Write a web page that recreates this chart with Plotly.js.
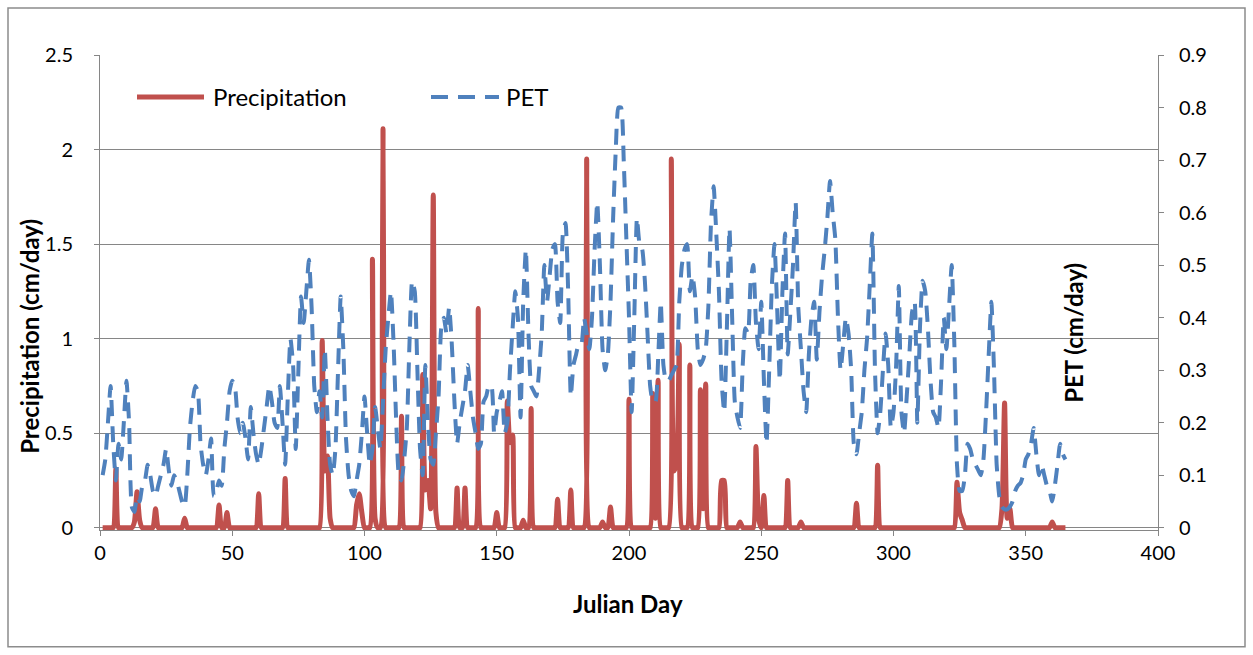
<!DOCTYPE html>
<html>
<head>
<meta charset="utf-8">
<script src="https://cdn.plot.ly/plotly-3.0.1.min.js"></script>
<style>
  html, body { margin: 0; padding: 0; background: #ffffff; }
  #chart { width: 1253px; height: 655px; }
</style>
</head>
<body>
<div id="chart"></div>
<script>
// ---- Data ----
// PET, cm/day, Julian days 1..365
const petValues = [
  0.10,0.13,0.20,0.27,0.16,0.09,0.16,0.13,0.20,0.28,
  0.20,0.04,0.03,0.06,0.05,0.08,0.09,0.12,0.10,0.07,
  0.06,0.08,0.10,0.12,0.15,0.11,0.08,0.10,0.09,0.07,
  0.05,0.04,0.10,0.19,0.24,0.27,0.26,0.16,0.12,0.10,
  0.13,0.17,0.06,0.07,0.09,0.08,0.15,0.20,0.26,0.28,
  0.27,0.21,0.18,0.20,0.17,0.13,0.23,0.18,0.14,0.12,
  0.15,0.19,0.23,0.27,0.24,0.20,0.19,0.27,0.20,0.12,
  0.25,0.36,0.31,0.15,0.30,0.44,0.39,0.45,0.51,0.42,
  0.27,0.22,0.26,0.21,0.34,0.21,0.12,0.10,0.15,0.30,
  0.44,0.34,0.17,0.10,0.07,0.06,0.09,0.12,0.18,0.25,
  0.18,0.12,0.15,0.23,0.19,0.15,0.24,0.34,0.40,0.45,
  0.35,0.20,0.10,0.09,0.13,0.19,0.35,0.47,0.45,0.30,
  0.15,0.10,0.31,0.20,0.13,0.12,0.18,0.25,0.38,0.40,
  0.37,0.42,0.35,0.24,0.16,0.20,0.23,0.26,0.31,0.26,
  0.21,0.18,0.15,0.16,0.24,0.25,0.27,0.27,0.18,0.22,
  0.24,0.26,0.18,0.20,0.30,0.38,0.45,0.40,0.21,0.43,
  0.53,0.37,0.27,0.26,0.25,0.30,0.37,0.50,0.43,0.48,
  0.53,0.54,0.43,0.39,0.56,0.58,0.45,0.25,0.31,0.33,
  0.35,0.35,0.40,0.37,0.34,0.40,0.53,0.62,0.50,0.34,
  0.30,0.33,0.43,0.59,0.72,0.80,0.80,0.70,0.55,0.40,
  0.22,0.40,0.59,0.54,0.53,0.47,0.37,0.27,0.24,0.24,
  0.32,0.43,0.31,0.28,0.28,0.29,0.30,0.31,0.43,0.50,
  0.53,0.54,0.45,0.48,0.44,0.34,0.31,0.32,0.34,0.42,
  0.58,0.65,0.56,0.45,0.28,0.22,0.38,0.57,0.40,0.24,
  0.21,0.19,0.31,0.38,0.37,0.47,0.50,0.39,0.34,0.43,
  0.28,0.16,0.30,0.46,0.54,0.42,0.28,0.45,0.56,0.33,
  0.41,0.50,0.62,0.42,0.34,0.26,0.22,0.33,0.40,0.43,
  0.32,0.41,0.48,0.53,0.59,0.66,0.60,0.55,0.40,0.30,
  0.35,0.40,0.37,0.30,0.16,0.14,0.18,0.22,0.30,0.36,
  0.46,0.56,0.30,0.18,0.22,0.30,0.37,0.31,0.19,0.22,
  0.31,0.46,0.22,0.18,0.25,0.33,0.41,0.43,0.20,0.38,
  0.47,0.45,0.38,0.28,0.22,0.21,0.19,0.28,0.40,0.34,
  0.42,0.50,0.35,0.12,0.07,0.07,0.10,0.16,0.15,0.13,
  0.12,0.11,0.10,0.13,0.22,0.33,0.43,0.30,0.12,0.06,
  0.04,0.035,0.035,0.04,0.05,0.07,0.08,0.085,0.10,0.13,
  0.14,0.16,0.19,0.14,0.10,0.12,0.10,0.08,0.07,0.05,
  0.08,0.12,0.16,0.14,0.13
];

// Precipitation, cm/day: days with rain and their amounts (all other days are 0)
const rainDays = [6,13,14,15,21,32,45,48,60,70,84,85,86,87,97,98,99,103,104,107,114,
  122,123,124,125,126,127,135,138,143,150,154,155,156,160,163,173,178,184,190,193,200,
  209,210,211,216,217,218,219,223,227,228,229,235,236,242,248,249,251,260,265,286,294,
  324,325,326,341,342,343,344,360];
const rainAmounts = [0.31,0.03,0.19,0.04,0.10,0.05,0.12,0.08,0.18,0.26,0.99,0.30,0.38,0.05,0.12,0.18,0.08,1.42,0.05,2.11,0.59,
  0.81,0.20,0.25,0.10,1.76,0.08,0.21,0.21,1.16,0.08,0.67,0.45,0.49,0.04,0.63,0.15,0.20,1.95,0.03,0.11,0.68,
  0.71,0.05,0.78,1.95,0.30,0.35,0.97,0.86,0.73,0.10,0.76,0.25,0.25,0.03,0.43,0.05,0.17,0.25,0.03,0.13,0.33,
  0.24,0.08,0.04,0.10,0.66,0.05,0.10,0.03];

const seriesNames = ["Precipitation", "PET"];
const xTitle = "Julian Day";
const yLeftTitle = "Precipitation (cm/day)";
const yRightTitle = "PET (cm/day)";

// ---- Build daily series ----
const days = petValues.map((_, i) => i + 1);
const precip = days.map(d => {
  const k = rainDays.indexOf(d);
  return k >= 0 ? rainAmounts[k] : 0;
});

const red = "#C0504D";
const blue = "#4F81BD";
const grid = "#868686";
const font = "Lato, 'Open Sans', sans-serif";

const traces = [
  {
    x: days, y: precip, name: seriesNames[0], type: "scatter", mode: "lines",
    line: { color: red, width: 5, shape: "spline", smoothing: 0.6 },
    yaxis: "y", showlegend: false, hoverinfo: "x+y"
  },
  {
    x: days, y: petValues, name: seriesNames[1], type: "scatter", mode: "lines",
    line: { color: blue, width: 4, dash: "16px,10px", shape: "spline", smoothing: 0.5 },
    yaxis: "y2", showlegend: false, hoverinfo: "x+y"
  }
];

// plot area geometry in pixels (for paper-coordinate helpers)
const L = 100, R = 1158, T = 55, B = 530.3;
const px = x => (x - L) / (R - L);
const py = y => (B - y) / (B - T);

const layout = {
  width: 1253, height: 655,
  paper_bgcolor: "#ffffff", plot_bgcolor: "#ffffff",
  margin: { l: L, r: 1253 - R, t: T, b: 655 - B },
  font: { family: font, size: 20, color: "#000000" },
  xaxis: {
    range: [0, 400], dtick: 50, tick0: 0,
    showgrid: false, zeroline: false,
    showline: true, linecolor: grid, linewidth: 1,
    ticks: "outside", ticklen: 5, tickcolor: grid,
    tickfont: { family: font, size: 20, color: "#000" }
  },
  yaxis: {
    range: [-0.012, 2.5], tickvals: [0, 0.5, 1, 1.5, 2, 2.5],
    ticktext: ["0", "0.5", "1", "1.5", "2", "2.5"],
    showgrid: true, gridcolor: grid, gridwidth: 1, zeroline: false,
    showline: true, linecolor: grid, linewidth: 1,
    ticks: "outside", ticklen: 5, tickcolor: grid,
    ticklabelstandoff: 17,
    tickfont: { family: font, size: 20, color: "#000" }
  },
  yaxis2: {
    overlaying: "y", side: "right",
    range: [-0.9 * 0.012 / 2.5, 0.9],
    tickvals: [0, 0.1, 0.2, 0.3, 0.4, 0.5, 0.6, 0.7, 0.8, 0.9],
    ticktext: ["0", "0.1", "0.2", "0.3", "0.4", "0.5", "0.6", "0.7", "0.8", "0.9"],
    showgrid: false, zeroline: false,
    showline: true, linecolor: grid, linewidth: 1,
    ticks: "outside", ticklen: 5, tickcolor: grid,
    ticklabelstandoff: 11,
    tickfont: { family: font, size: 20, color: "#000" }
  },
  shapes: [
    // chart outer border
    { type: "rect", xref: "paper", yref: "paper",
      x0: px(8), x1: px(1245), y0: py(647), y1: py(8),
      line: { color: "#8c8c8c", width: 1.5 }, fillcolor: "rgba(0,0,0,0)", layer: "below" },
    // legend samples
    { type: "line", xref: "paper", yref: "paper", x0: px(137), x1: px(204), y0: py(97), y1: py(97),
      line: { color: red, width: 5 } },
    { type: "line", xref: "paper", yref: "paper", x0: px(431), x1: px(499), y0: py(97), y1: py(97),
      line: { color: blue, width: 4, dash: "17px,10px" } }
  ],
  annotations: [
    { text: seriesNames[0], xref: "paper", yref: "paper", x: px(211), y: py(97),
      xanchor: "left", yanchor: "middle", showarrow: false, font: { family: font, size: 24 } },
    { text: seriesNames[1], xref: "paper", yref: "paper", x: px(504), y: py(97),
      xanchor: "left", yanchor: "middle", showarrow: false, font: { family: font, size: 24 } },
    { text: "<b>" + xTitle + "</b>", xref: "paper", yref: "paper", x: px(628), y: py(604),
      xanchor: "center", yanchor: "middle", showarrow: false, font: { family: font, size: 24 } },
    { text: "<b>" + yLeftTitle + "</b>", xref: "paper", yref: "paper", x: px(30), y: py(337),
      xanchor: "center", yanchor: "middle", textangle: -90, showarrow: false, font: { family: font, size: 24 } },
    { text: "<b>" + yRightTitle + "</b>", xref: "paper", yref: "paper", x: px(1074), y: py(333),
      xanchor: "center", yanchor: "middle", textangle: -90, showarrow: false, font: { family: font, size: 24 } }
  ],
  showlegend: false
};

Plotly.newPlot("chart", traces, layout, { displayModeBar: false, staticPlot: true });
</script>
</body>
</html>
